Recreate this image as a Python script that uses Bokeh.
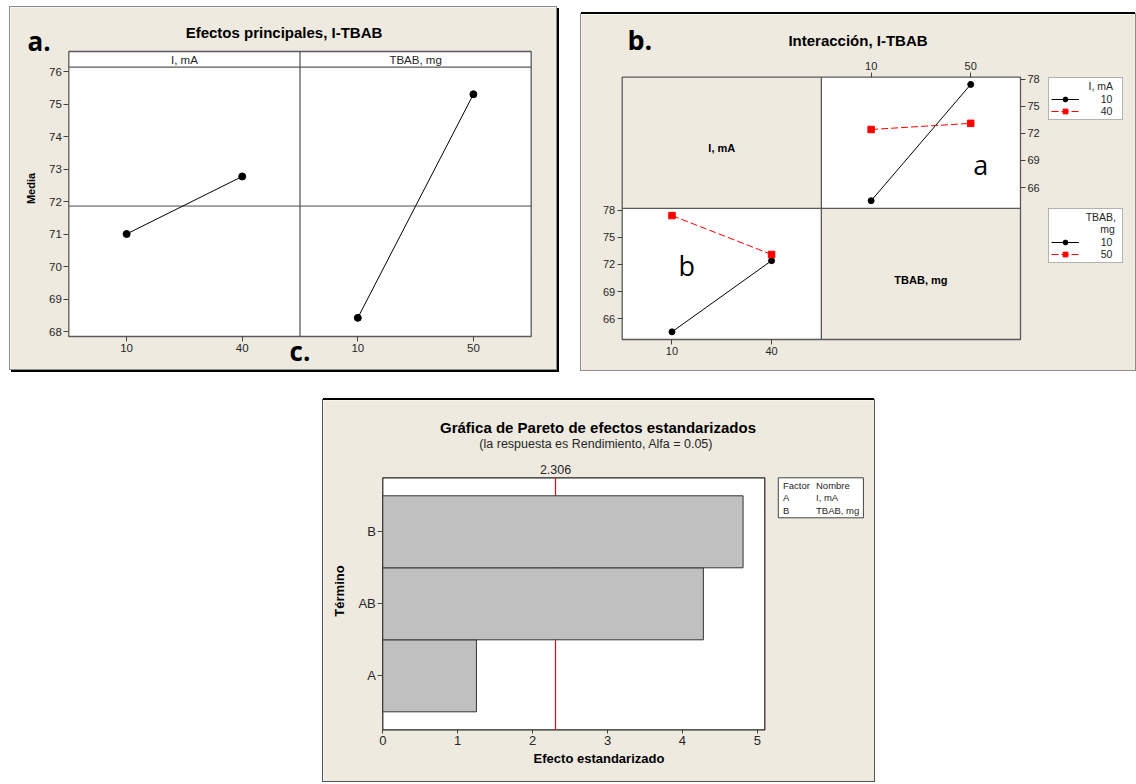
from bokeh.plotting import figure
from bokeh.models import (Range1d, Label, LinearAxis, FixedTicker, Legend, LegendItem,
                          Spacer, PrintfTickFormatter)
from bokeh.layouts import column, row
from bokeh.embed import file_html
from bokeh.resources import INLINE
from bokeh.core.properties import value

# ---------------- data ----------------
i_levels = [10, 40]              # I, mA
tbab_levels = [10, 50]           # TBAB, mg
i_means = [71.00, 72.77]
tbab_means = [68.42, 75.30]
grand_mean = 71.86
y_ticks_a = [68, 69, 70, 71, 72, 73, 74, 75, 76]

# interaction: mean response of every (I, TBAB) cell
i10_over_tbab = [64.55, 77.40]   # I = 10 at TBAB 10, 50
i40_over_tbab = [72.42, 73.10]   # I = 40 at TBAB 10, 50
tbab10_over_i = [64.55, 72.42]   # TBAB = 10 at I 10, 40
tbab50_over_i = [77.40, 73.10]   # TBAB = 50 at I 10, 40
y_ticks_b = [66, 69, 72, 75, 78]

terms = ["A", "AB", "B"]
std_effects = [1.25, 4.28, 4.81]
critical = 2.306
x_ticks_c = [0, 1, 2, 3, 4, 5]
factor_codes = ["A", "B"]
factor_names = ["I, mA", "TBAB, mg"]

# ---------------- style ----------------
FONT = "Liberation Sans"
BIG = "Open Sans"
BEIGE = "#EEEAE0"
FRAME = "#5a5a5a"
TXT = "#262626"
NB = "\u00a0"


def panel(w, h):
    """Figure whose frame is the whole panel; default ranges are pixels from top-left."""
    f = figure(width=w, height=h, title=None, output_backend="svg", toolbar_location=None,
               x_range=Range1d(0, w), y_range=Range1d(h, 0),
               x_axis_type=None, y_axis_type=None, min_border=0)
    f.background_fill_color = BEIGE
    f.border_fill_color = BEIGE
    f.outline_line_color = None
    return f


def yrange(v_ref, p_ref, ppu, h):
    return Range1d(v_ref - (h - p_ref) / ppu, v_ref + p_ref / ppu)


def xrange_levels(levels, pa, pb, w):
    ppu = (pb - pa) / (levels[1] - levels[0])
    return Range1d(levels[0] - pa / ppu, levels[0] + (w - pa) / ppu)


def style_axis(ax, size="11px", tick=5, standoff=2):
    ax.major_label_text_font = FONT
    ax.major_label_text_font_size = size
    ax.major_label_text_color = TXT
    ax.major_tick_out = tick
    ax.major_tick_in = 0
    ax.minor_tick_out = 0
    ax.minor_tick_in = 0
    ax.major_tick_line_color = "#444444"
    ax.axis_line_color = None
    ax.major_label_standoff = standoff
    ax.axis_label_text_font = FONT
    ax.axis_label_text_font_style = "bold"
    ax.axis_label_text_color = "black"


def lab(fig, x, y, text, size, bold=False, font=FONT, align="center",
        baseline="middle", color=TXT):
    fig.add_layout(Label(x=x, y=y, text=text, text_font=font, text_font_size=size,
                         text_font_style="bold" if bold else "normal",
                         text_align=align, text_baseline=baseline, text_color=color))


# ================= panel a : main effects =================
WA, HA = 546, 362
A_L, A_R, A_T, A_S, A_B = 58.3, 520.7, 44.0, 59.7, 329.0
A_MID = (A_L + A_R) / 2
FW = (A_R - A_L) / 2
pa = panel(WA, HA)
pa.extra_y_ranges = {"val": yrange(76, 64.0, 32.5, HA)}
pa.extra_x_ranges = {
    "I": xrange_levels(i_levels, A_L + FW / 4, A_L + 3 * FW / 4, WA),
    "TBAB": xrange_levels(tbab_levels, A_MID + FW / 4, A_MID + 3 * FW / 4, WA),
}
pa.quad(left=A_L, right=A_R, top=A_T, bottom=A_B, fill_color="white",
         line_color=FRAME, line_width=1.3)
pa.segment(x0=A_L, x1=A_R, y0=A_S, y1=A_S, line_color=FRAME, line_width=1.3)
pa.segment(x0=A_MID, x1=A_MID, y0=A_T, y1=A_B, line_color=FRAME, line_width=1.3)
pa.segment(x0=A_L, x1=A_R, y0=grand_mean, y1=grand_mean, y_range_name="val",
           line_color="#4a4a4a", line_width=1)
pa.line(i_levels, i_means, x_range_name="I", y_range_name="val",
        line_color="black", line_width=1)
pa.scatter(i_levels, i_means, x_range_name="I", y_range_name="val", size=7, color="black")
pa.line(tbab_levels, tbab_means, x_range_name="TBAB", y_range_name="val",
        line_color="black", line_width=1)
pa.scatter(tbab_levels, tbab_means, x_range_name="TBAB", y_range_name="val",
           size=7, color="black")

ay = LinearAxis(y_range_name="val", ticker=FixedTicker(ticks=y_ticks_a),
                fixed_location=A_L, axis_label="Media")
style_axis(ay, "11.5px", 5, 2)
ay.axis_label_text_font_size = "11px"
ay.axis_label_standoff = 9
pa.add_layout(ay, "left")
for rname, lv in (("I", i_levels), ("TBAB", tbab_levels)):
    ax = LinearAxis(x_range_name=rname, ticker=FixedTicker(ticks=lv), fixed_location=A_B)
    style_axis(ax, "11.5px", 5, 2)
    pa.add_layout(ax, "below")

lab(pa, A_L + FW / 2, 52.2, "I, mA", "11.5px")
lab(pa, A_MID + FW / 2, 52.2, "TBAB, mg", "11.5px")
lab(pa, 273.5, 25.3, "Efectos principales, I-TBAB", "15px", bold=True, color="black")
lab(pa, 17, 33, "a.", "26px", bold=True, font=BIG, align="left",
    baseline="alphabetic", color="black")
lab(pa, A_MID, 343, "c.", "26px", bold=True, font=BIG, align="center",
    baseline="alphabetic", color="black")
pa.styles = {"box-shadow": "0 0 0 1px #8c8c8c, 2px 2px 0 1px #000000"}

# ================= panel b : interaction =================
WB, HB = 554, 356
B_L, B_R, B_T, B_B = 40.7, 439.0, 62.7, 325.0
B_MX = (B_L + B_R) / 2
B_MY = (B_T + B_B) / 2
CW = (B_R - B_L) / 2
pb = panel(WB, HB)
pb.extra_x_ranges = {
    "I": xrange_levels(i_levels, B_L + CW / 4, B_L + 3 * CW / 4, WB),
    "TBAB": xrange_levels(tbab_levels, B_MX + CW / 4, B_MX + 3 * CW / 4, WB),
}
pb.extra_y_ranges = {"up": yrange(78, 64.5, 9.05, HB),
                     "lo": yrange(78, 64.5 + (B_MY - B_T), 9.05, HB)}
pb.quad(left=B_L, right=B_R, top=B_T, bottom=B_B, fill_color="white", line_color=None)
pb.quad(left=[B_L, B_MX], right=[B_MX, B_R], top=[B_T, B_MY], bottom=[B_MY, B_B],
        fill_color=BEIGE, line_color=None)
pb.quad(left=B_L, right=B_R, top=B_T, bottom=B_B, fill_color=None,
        line_color=FRAME, line_width=1.3)
pb.segment(x0=[B_MX, B_L], x1=[B_MX, B_R], y0=[B_T, B_MY], y1=[B_B, B_MY],
           line_color=FRAME, line_width=1.3)

# upper-right: x = TBAB, one line per I level
r_u1l = pb.line(tbab_levels, i10_over_tbab, x_range_name="TBAB", y_range_name="up",
                line_color="black", line_width=1)
r_u1s = pb.scatter(tbab_levels, i10_over_tbab, x_range_name="TBAB", y_range_name="up",
                   size=6, color="black")
r_u2l = pb.line(tbab_levels, i40_over_tbab, x_range_name="TBAB", y_range_name="up",
                line_color="red", line_width=1, line_dash="7 3")
r_u2s = pb.scatter(tbab_levels, i40_over_tbab, x_range_name="TBAB", y_range_name="up",
                   marker="square", size=6.5, color="red")
# lower-left: x = I, one line per TBAB level
r_l1l = pb.line(i_levels, tbab10_over_i, x_range_name="I", y_range_name="lo",
                line_color="black", line_width=1)
r_l1s = pb.scatter(i_levels, tbab10_over_i, x_range_name="I", y_range_name="lo",
                   size=6, color="black")
r_l2l = pb.line(i_levels, tbab50_over_i, x_range_name="I", y_range_name="lo",
                line_color="red", line_width=1, line_dash="7 3")
r_l2s = pb.scatter(i_levels, tbab50_over_i, x_range_name="I", y_range_name="lo",
                   marker="square", size=6.5, color="red")

axL = LinearAxis(y_range_name="lo", ticker=FixedTicker(ticks=y_ticks_b), fixed_location=B_L)
axR = LinearAxis(y_range_name="up", ticker=FixedTicker(ticks=y_ticks_b), fixed_location=B_R)
axT = LinearAxis(x_range_name="TBAB", ticker=FixedTicker(ticks=tbab_levels),
                 fixed_location=B_T)
axB = LinearAxis(x_range_name="I", ticker=FixedTicker(ticks=i_levels), fixed_location=B_B)
for ax in (axL, axR, axT, axB):
    style_axis(ax, "11px", 5, 2)
pb.add_layout(axL, "left")
pb.add_layout(axR, "right")
pb.add_layout(axT, "above")
pb.add_layout(axB, "below")


def make_legend(fig, items, title, top, height):
    # legend location is its bottom-left corner, measured from the frame's bottom-left
    lg = Legend(items=items, location=(466.7, HB - top - height), title=title,
                orientation="vertical",
                padding=2, spacing=0, margin=0, glyph_width=28, glyph_height=12,
                label_height=12, label_width=19, label_standoff=22, title_standoff=1,
                label_text_font=FONT, label_text_font_size="10.5px",
                label_text_color=TXT, title_text_font=FONT,
                title_text_font_size="10.5px", title_text_font_style="normal",
                title_text_color=TXT, border_line_color="#666666",
                border_line_width=1.5, background_fill_color="white",
                background_fill_alpha=1)
    fig.add_layout(lg)


make_legend(pb, [LegendItem(label=value(str(i_levels[0])), renderers=[r_u1l, r_u1s]),
                 LegendItem(label=value(str(i_levels[1])), renderers=[r_u2l, r_u2s])],
            NB * 13 + "I, mA", 62.7, 43)
make_legend(pb, [LegendItem(label=value(str(tbab_levels[0])), renderers=[r_l1l, r_l1s]),
                 LegendItem(label=value(str(tbab_levels[1])), renderers=[r_l2l, r_l2s])],
            NB * 12 + "TBAB,\n" + NB * 17 + "mg", 194.3, 55)

lab(pb, 276.5, 26, "Interacción, I-TBAB", "15px", bold=True, color="black")
lab(pb, 46, 25, "b.", "27px", bold=True, font=BIG, align="left",
    baseline="alphabetic", color="black")
lab(pb, (B_L + B_MX) / 2, 133.3, "I, mA", "11px", bold=True, color="black")
lab(pb, (B_MX + B_R) / 2, 265.3, "TBAB, mg", "11px", bold=True, color="black")
lab(pb, 391.8, 150, "a", "27px", font=BIG, align="left", baseline="alphabetic",
    color="black")
lab(pb, 97, 251, "b", "27px", font=BIG, align="left", baseline="alphabetic",
    color="black")
pb.styles = {"box-shadow": "0 -2px 0 0 #000000, 0 0 0 1px #8c8c8c"}

# ================= panel c : Pareto =================
WC, HC = 551, 381
C_L, C_R, C_T, C_B = 59.3, 441.3, 77.3, 329.3
term_pos = list(range(1, len(terms) + 1))
PPU_T = (C_B - C_T) / (len(terms) + 0.5)
pc = panel(WC, HC)
pc.extra_x_ranges = {"eff": Range1d(-C_L / 74.9, (WC - C_L) / 74.9)}
pc.extra_y_ranges = {"term": Range1d(0.25 - (HC - C_B) / PPU_T,
                                     len(terms) + 0.75 + C_T / PPU_T)}
pc.quad(left=C_L, right=C_R, top=C_T, bottom=C_B, fill_color="white",
        line_color="#222222", line_width=1.2)
pc.segment(x0=critical, x1=critical, y0=C_T, y1=C_B, x_range_name="eff",
           line_color="#ff0000", line_width=1.2)
pc.hbar(y=term_pos, right=std_effects, left=0, height=1.0, x_range_name="eff",
        y_range_name="term", fill_color="#C0C0C0", line_color="#333333", line_width=1)

cx = LinearAxis(x_range_name="eff", ticker=FixedTicker(ticks=x_ticks_c),
                fixed_location=C_B, axis_label="Efecto estandarizado")
style_axis(cx, "13px", 4, 2)
cx.axis_label_text_font_size = "13px"
cx.axis_label_standoff = 3
pc.add_layout(cx, "below")
cy = LinearAxis(y_range_name="term", ticker=FixedTicker(ticks=term_pos),
                major_label_overrides={p: t for p, t in zip(term_pos, terms)},
                fixed_location=C_L, axis_label="Término")
style_axis(cy, "13px", 5, 2)
cy.axis_label_text_font_size = "13px"
cy.axis_label_standoff = 8
pc.add_layout(cy, "left")
ct = LinearAxis(x_range_name="eff", ticker=FixedTicker(ticks=[critical]),
                formatter=PrintfTickFormatter(format="%.3f"), fixed_location=C_T)
style_axis(ct, "12.5px", 0, 4)
pc.add_layout(ct, "above")

lab(pc, 274.5, 26.7, "Gráfica de Pareto de efectos estandarizados", "15px",
    bold=True, color="black")
lab(pc, 274.5, 43.3, "(la respuesta es Rendimiento, Alfa =  0.05)", "12.5px")
pc.quad(left=454.8, right=539.9, top=77.3, bottom=117.3, fill_color="white",
        line_color="#444444", line_width=1)
lab(pc, 459.4, 85, "Factor", "9.5px", align="left")
lab(pc, 492.5, 85, "Nombre", "9.5px", align="left")
for k, (code, name) in enumerate(zip(factor_codes, factor_names)):
    lab(pc, 459.4, 97.2 + 12.3 * k, code, "9.5px", align="left")
    lab(pc, 492.5, 97.2 + 12.3 * k, name, "9.5px", align="left")
pc.styles = {"box-shadow": "0 -2px 0 0 #000000, 0 0 0 1px #555555"}

# ================= layout =================
root = column(
    Spacer(height=7),
    row(Spacer(width=10), pa, Spacer(width=25), column(Spacer(height=7), pb)),
    Spacer(height=30),
    row(Spacer(width=323), pc),
)

open("out.html", "w").write(file_html(root, INLINE, title="I-TBAB"))
